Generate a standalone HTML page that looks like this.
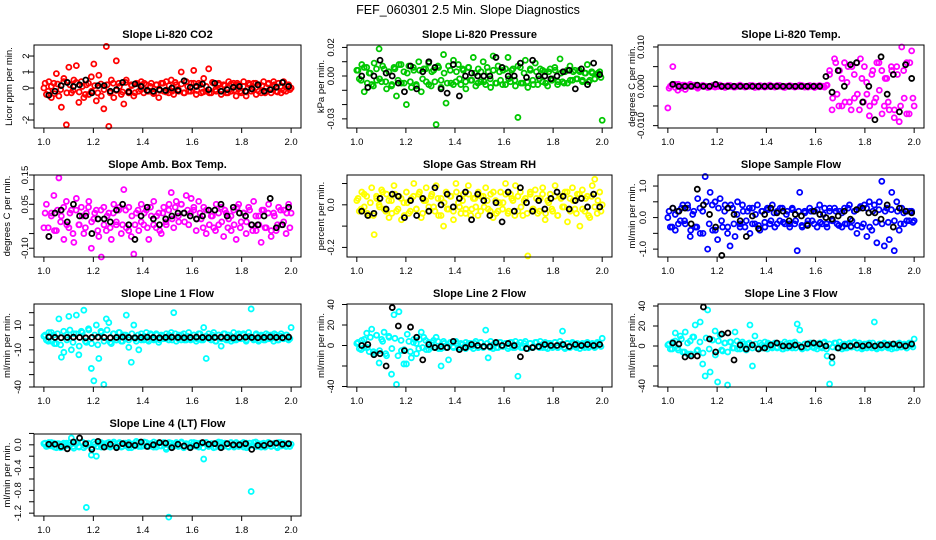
<!DOCTYPE html>
<html><head><meta charset="utf-8"><style>
html,body{margin:0;padding:0;background:#fff}
svg{display:block;font-family:"Liberation Sans","DejaVu Sans",sans-serif}
</style></head><body>
<svg id="chart" width="936" height="540" viewBox="0 0 936 540" xmlns="http://www.w3.org/2000/svg">
<rect width="936" height="540" fill="#fff"/>
<text x="468" y="14" text-anchor="middle" font-size="12.5">FEF_060301  2.5 Min. Slope Diagnostics</text>
</svg>
<script>
// ---- data (colored series evenly spaced over 1..2, band series over 1.005..1.995, black series over 1.02..1.99)
const xTickLabels = ["1.0","1.2","1.4","1.6","1.8","2.0"];
const xTicks = [1.0,1.2,1.4,1.6,1.8,2.0];

const co2Vals = [0,-0.4,0.4,-0.6,0.3,0.9,-0.5,-1.2,0.6,-2.3,1.3,-0.3,0.5,1.4,-0.9,0.4,-0.6,0.2,-0.4,0.7,1.5,-0.8,0.8,-0.5,-1.3,2.6,-2.4,0.5,-0.6,1.7,0.3,-0.4,-1.0,0.5,-0.3,0.2,-0.5,0.3,-0.2,0.4,-0.3,0.2,-0.2,0.3,-0.3,0.2,-0.6,0.3,-0.2,0.4,-0.3,0.5,-0.4,0.2,-0.2,1.0,-0.3,0.4,-0.2,0.3,1.1,-0.4,0.3,-0.3,0.6,-0.2,1.2,-0.3,0.3,-0.2,0.3,-0.4,0.2,-0.3,0.4,-0.2,0.3,-0.5,0.2,-0.3,0.4,-0.5,0.3,-0.2,0.3,-0.4,0.2,-0.3,0.4,-0.2,0.3,-0.3,0.4,-0.2,0.3,-0.3,0.4,-0.2,0.2,0.0];
const co2Band = [0.3,-0.2,0.1,-0.35,0.25,-0.1,0.4,-0.3,0.2,-0.15,0.35,-0.25,0.1,-0.4,0.3,-0.2,0.15,-0.3,0.25,-0.1,0.2,-0.3,0.3,-0.15,0.1,-0.25,0.35,-0.2,0.15,-0.3,0.25,-0.1,0.3,-0.2,0.1,-0.35,0.2,-0.15,0.3,-0.25,0.15,-0.2,0.35,-0.1,0.25,-0.3,0.1,-0.2,0.3,-0.15,0.2,-0.25,0.1,-0.3,0.35,-0.1,0.2,-0.2,0.15,-0.3,0.25,-0.15,0.3,-0.2,0.1,-0.25,0.2,-0.1,0.3,-0.2,0.15,-0.3,0.25,-0.1,0.2,-0.25,0.1,-0.15,0.2,-0.1];
const co2Black = [-0.45,-0.2,0.15,0.35,0.1,0.2,0.5,-0.3,0.15,0.15,-0.2,-0.1,0.35,-0.25,0.25,0.1,-0.15,-0.2,-0.1,-0.15,0.0,-0.15,0.45,0.05,0.1,0.25,-0.1,0.3,-0.2,-0.1,0.05,0.1,-0.2,-0.05,0.2,-0.2,-0.1,0.05,0.35,0.1];

const presVals = [0.004,-0.002,0.008,-0.011,0.006,0.002,-0.006,0.009,-0.003,0.019,-0.004,0.005,-0.009,0.003,-0.007,0.006,-0.014,0.008,-0.005,0.003,-0.02,0.007,-0.008,0.004,-0.006,0.01,-0.011,0.005,-0.004,0.009,-0.007,0.004,-0.034,0.006,-0.008,0.015,-0.019,0.007,-0.005,0.011,-0.004,0.008,-0.006,0.004,-0.009,0.006,-0.003,0.013,-0.007,0.005,-0.004,0.01,-0.006,0.003,-0.008,0.014,-0.005,0.007,-0.003,0.004,-0.006,0.013,-0.004,0.005,-0.007,-0.029,0.006,-0.005,0.011,-0.008,0.004,-0.003,0.009,-0.006,0.005,-0.004,0.003,-0.007,0.005,-0.002,0.004,-0.006,0.012,-0.004,0.003,-0.005,0.007,-0.003,0.004,-0.002,0.003,-0.004,0.002,0.008,-0.003,0.002,-0.002,0.001,0.003,-0.031];
const presBand = [0.004,-0.003,0.006,-0.005,0.002,-0.007,0.005,-0.002,0.007,-0.004,0.003,-0.006,0.005,-0.003,0.008,-0.005,0.002,-0.004,0.006,-0.007,0.004,-0.002,0.005,-0.006,0.003,-0.004,0.007,-0.003,0.002,-0.005,0.004,-0.006,0.003,-0.002,0.005,-0.004,0.006,-0.003,0.002,-0.005,0.003,-0.004,0.006,-0.002,0.004,-0.005,0.003,-0.006,0.005,-0.002,0.004,-0.003,0.007,-0.005,0.002,-0.004,0.005,-0.006,0.003,-0.002,0.004,-0.005,0.003,-0.003,0.006,-0.004,0.002,-0.005,0.004,-0.003,0.003,-0.002,0.004,-0.003,0.002,-0.004,0.003,-0.002,0.002,-0.001];
const presBlack = [0.0,-0.008,0.0,0.011,0.002,0.0,-0.005,-0.011,0.007,-0.009,0.003,0.01,0.006,-0.009,-0.012,0.008,-0.014,0.0,0.002,0.0,0.0,0.0,0.013,0.006,0.0,0.0,0.009,-0.001,0.011,0.0,0.0,-0.002,0.0,0.003,0.004,-0.009,0.005,-0.006,0.009,0.001];

const tempVals = [-0.0055,0.0,0.005,0.0005,-0.001,0.0,0.0003,-0.0008,0.0,0.0005,0,0.0003,-0.0005,0,0.0002,0,-0.0003,0,0.0002,-0.0002,0,0.0003,0,-0.0003,0,0.0002,0,-0.0002,0,0.0003,0,-0.0002,0,0.0002,0,-0.0003,0,0.0002,0,-0.0002,0,0.0003,0,-0.0002,0,0.0002,0,-0.0003,0,0.0002,0,-0.0002,0,0.0003,0,-0.0002,0,0.0002,0,-0.0003,0,0.0002,0,-0.0002,0.0003,0.003,-0.006,0.007,-0.002,0.004,-0.005,0.006,0.001,-0.004,0.005,-0.003,0.006,-0.006,0.002,0.005,-0.002,-0.0075,0.003,-0.004,0.006,-0.001,0.004,-0.005,0.002,-0.006,0.004,-0.008,0.005,-0.009,0.01,-0.003,0.006,-0.007,0.009,-0.005];
const tempBand = [-0.0005,0.0004,-0.0003,0.0005,-0.0004,0.0003,0,0.0002,0,-0.0002,0,0.0002,0,-0.0002,0,0.0001,0,-0.0001,0,0.0002,0,-0.0002,0,0.0001,0,-0.0001,0,0.0002,0,-0.0002,0,0.0001,0,-0.0001,0,0.0002,0,-0.0002,0,0.0001,0,-0.0001,0,0.0002,0,-0.0002,0,0.0001,0,-0.0001,0,0.0002,0.004,-0.003,0.006,-0.005,0.002,-0.004,0.005,-0.006,0.003,-0.002,0.007,-0.004,0.001,-0.005,0.004,-0.003,0.006,-0.007,0.002,-0.004,0.005,-0.006,0.003,-0.005,0.004,-0.007,0.006,-0.003];
const tempBlack = [0.0005,0,0,0,0.0003,0,0,0.0005,0,0,0,0,0,0,0,0,0,0,0,0,0,0,0,0,0,0.0025,-0.0015,0.004,0,0.0055,0.006,-0.004,0.0,-0.0085,0.0075,-0.002,0.003,-0.0065,0.0055,0.002];

const ambVals = [-0.03,0.05,-0.06,0.02,0.08,-0.04,0.14,0.01,-0.07,0.06,-0.03,0.03,-0.08,0.07,-0.02,0.04,-0.05,0.02,0.06,-0.1,0.0,0.03,-0.06,-0.13,0.04,-0.04,0.02,-0.07,0.05,-0.02,0.03,-0.05,0.1,-0.03,0.04,-0.06,-0.12,0.02,-0.04,0.05,-0.02,0.03,-0.07,0.01,0.06,-0.03,0.02,-0.05,0.04,-0.02,0.03,0.09,-0.03,0.06,-0.01,0.05,0.02,0.08,-0.02,0.07,0.03,-0.04,0.06,0.0,0.04,-0.05,0.03,0.01,-0.03,0.05,-0.02,0.04,-0.06,0.02,0.0,-0.04,0.03,-0.07,0.05,-0.01,0.02,-0.05,0.04,-0.02,0.06,-0.04,0.01,-0.08,0.03,-0.03,0.05,-0.06,0.02,-0.04,0.04,-0.02,0.03,-0.05,0.05,0.02];
const ambBand = [0.02,-0.03,0.01,-0.04,0.03,-0.01,0.04,-0.02,0.02,-0.05,0.03,-0.02,0.01,-0.03,0.04,-0.01,0.02,-0.04,0.03,-0.02,0.01,-0.03,0.02,-0.01,0.04,-0.02,0.03,-0.04,0.01,-0.02,0.03,-0.01,0.02,-0.03,0.04,-0.02,0.01,-0.04,0.02,-0.01,0.05,0.0,0.04,0.01,0.05,-0.01,0.03,0.02,0.04,0.0,0.02,-0.03,0.03,-0.02,0.01,-0.04,0.02,-0.01,0.03,-0.03,0.01,-0.02,0.04,-0.03,0.02,-0.01,0.03,-0.04,0.01,-0.02,0.03,-0.03,0.02,-0.04,0.01,-0.02,0.03,-0.01,0.02,-0.03];
const ambBlack = [-0.06,0.02,0.03,-0.01,0.05,0.01,0.01,-0.05,0.0,0.0,-0.01,0.03,0.05,-0.02,-0.07,0.01,0.04,0.0,-0.02,0.0,0.01,0.02,0.02,0.01,0.0,0.01,0.03,0.03,0.05,0.01,0.04,0.02,0.01,-0.02,-0.02,0.01,0.07,-0.03,-0.02,0.04];

const rhVals = [0.02,-0.03,0.06,-0.01,0.04,-0.05,0.08,-0.14,0.03,0.0,0.07,-0.02,0.05,-0.06,0.02,0.09,-0.03,0.04,-0.07,0.01,0.06,-0.04,0.03,0.1,-0.02,0.05,-0.06,0.02,0.08,-0.03,0.04,-0.01,0.09,-0.05,0.03,-0.1,0.06,-0.02,0.04,-0.07,0.1,0.01,-0.04,0.05,-0.02,0.09,-0.05,0.03,-0.01,0.06,-0.03,0.04,0.08,-0.02,0.05,-0.06,0.02,-0.03,0.06,0.01,0.1,-0.04,0.05,0.02,0.09,-0.03,0.06,-0.05,0.03,-0.24,0.05,-0.02,0.07,-0.04,0.03,0.08,-0.07,0.02,0.05,-0.03,0.09,-0.05,0.04,-0.01,0.06,-0.08,0.03,0.08,-0.02,0.05,-0.1,0.07,-0.03,0.04,-0.06,0.09,0.12,-0.04,0.06,0.0];
const rhBand = [0.03,-0.02,0.05,-0.04,0.01,-0.05,0.04,-0.01,0.06,-0.03,0.02,-0.04,0.05,-0.02,0.03,-0.05,0.01,-0.03,0.04,-0.02,0.06,-0.04,0.02,-0.01,0.05,-0.03,0.03,-0.05,0.01,-0.02,0.04,-0.03,0.06,-0.01,0.02,-0.04,0.05,-0.02,0.03,-0.05,0.04,-0.01,0.02,-0.03,0.06,-0.04,0.01,-0.02,0.05,-0.03,0.03,-0.05,0.04,-0.01,0.02,-0.04,0.06,-0.02,0.03,-0.03,0.05,-0.04,0.01,-0.02,0.04,-0.05,0.03,-0.01,0.06,-0.03,0.02,-0.04,0.05,-0.02,0.03,-0.05,0.04,-0.01,0.02,-0.03];
const rhBlack = [-0.03,-0.05,-0.04,0.03,-0.02,0.05,0.04,-0.06,0.02,-0.05,0.03,-0.03,0.08,0.0,0.05,-0.01,0.03,0.06,-0.07,0.05,0.02,-0.05,0.01,-0.08,0.06,-0.03,0.08,0.01,-0.03,0.02,-0.02,0.03,0.06,0.04,-0.02,0.02,0.03,-0.01,0.05,-0.01];

const flowVals = [0.0,-0.3,0.3,-0.4,0.2,-0.1,0.4,-0.2,0.3,-0.6,0.1,-0.3,0.6,-0.5,0.2,1.3,-1.0,0.8,-0.4,0.5,-0.7,0.6,-0.3,0.4,-0.5,-0.9,0.3,-0.6,0.5,-0.2,0.4,-0.3,0.2,-0.5,0.3,-0.2,0.4,-0.4,0.2,-0.3,0.3,-0.2,0.4,-0.3,0.2,-0.1,0.3,-0.2,0.2,-0.3,0.3,-0.2,-1.05,0.8,-0.3,0.2,-0.2,0.3,-0.1,0.2,-0.3,0.4,-0.2,0.3,-0.3,0.2,-0.1,0.3,-0.2,0.2,-0.3,0.3,-0.2,0.4,-0.1,0.2,-0.5,0.3,-0.3,0.4,-0.6,0.5,-0.4,0.4,-0.8,0.5,1.15,-0.9,0.3,-0.7,0.8,-1.05,0.5,-0.4,0.3,-0.2,0.2,-0.1,0.2,-0.1];
const flowBand = [0.2,-0.3,0.1,-0.2,0.3,-0.1,0.4,-0.4,0.2,-0.3,0.3,-0.5,0.5,-0.2,0.4,-0.4,0.3,-0.1,0.2,-0.3,0.4,-0.2,0.1,-0.3,0.2,-0.1,0.3,-0.2,0.1,-0.25,0.2,-0.15,0.25,-0.1,0.15,-0.2,0.3,-0.15,0.1,-0.2,0.25,-0.1,0.2,-0.25,0.15,-0.1,0.2,-0.2,0.25,-0.15,0.1,-0.2,0.3,-0.1,0.2,-0.25,0.15,-0.2,0.3,-0.3,0.2,-0.25,0.35,-0.2,0.3,-0.3,0.2,-0.15,0.25,-0.2,0.2,-0.15,0.25,-0.1,0.2,-0.2,0.15,-0.1,0.2,-0.15];
const flowBlack = [0.3,0.2,0.3,-0.2,0.9,0.4,0.1,-0.3,-1.2,0.3,0.1,-0.1,-0.6,0.05,-0.35,0.1,0.3,0.15,0.2,-0.1,0.1,0.05,-0.25,0.2,0.1,0.0,-0.05,0.05,0.2,-0.05,0.25,0.3,0.15,0.15,-0.05,0.4,-0.3,0.3,0.2,0.15];

const line1Vals = [1,-2,4,-3,2,-5,15,-16,-12,2,17,-10,3,18,-14,5,22,-4,6,-25,-35,10,-17,4,-38,15,12,-5,3,-2,4,-3,2,18,-8,-20,10,-3,-10,3,-2,4,-3,2,-2,3,-4,2,-1,3,-2,4,20,-3,2,-2,3,-2,4,-1,2,-3,3,-2,8,-17,3,-2,4,-3,2,-7,3,-2,2,-3,4,-2,3,-1,2,-3,4,23,-2,3,-3,2,-2,3,-1,2,-3,2,-2,3,-1,2,-2,8];
const line1Band = [2,-3,4,-5,3,-6,5,-2,6,-4,3,-7,4,-3,7,-5,2,-6,5,-3,6,-4,3,-2,4,-3,2,-2,3,-1,2,-2,1,-2,3,-1,2,-2,1,-1,2,-2,3,-1,2,-2,1,-2,2,-1,3,-2,1,-1,2,-3,2,-1,3,-2,1,-2,2,-1,3,-2,1,-1,2,-2,1,-2,2,-1,3,-2,1,-1,2,-1];
const line1Black = [0.3,0,-0.2,0,0.2,0,-0.3,0,0.2,0,-0.2,0,0.3,0,-0.2,0,0.2,0,-0.3,0,0.2,0,-0.2,0,0.3,0,-0.2,0,0.2,0,-0.3,0,0.2,0,-0.2,0,0.3,0,-0.2,0.3];

const line2Vals = [2,-3,5,-2,12,-6,16,-8,10,-17,6,13,-10,8,-28,30,-38,33,-5,-18,-18,4,-12,6,2,-3,13,8,-4,3,-2,5,8,-3,-20,4,-2,-14,3,-2,4,-3,2,-2,3,-1,2,-3,4,-2,3,-2,15,-12,4,-3,2,-2,3,-1,2,-3,3,-2,4,-30,3,-2,4,-3,2,-2,3,-1,4,-2,3,-3,2,-2,3,-2,4,14,-3,2,-2,3,-1,2,-3,2,-2,3,-1,2,-2,3,1,7];
const line2Band = [3,-4,6,-2,8,-6,10,-5,4,-8,9,-3,7,-10,5,-4,11,-6,3,-8,6,-2,5,-4,3,-2,4,-3,2,-2,3,-1,2,-2,1,-3,2,-1,2,-2,3,-1,2,-2,1,-2,3,-1,2,-1,3,-2,1,-2,2,-3,2,-1,3,-2,1,-2,2,-1,3,-2,1,-2,2,-1,2,-2,1,-1,2,-2,1,-1,2,-1];
const line2Black = [0,1,-9,-8,-20,37,19,-5,18,8,-14,1,-2,-1,-2,4,-4,-2,1,0,-1,-1,3,0,2,0,-11,-3,-2,-1,1,0,0,1,-1,1,0,1,0,1];

const line3Vals = [1,-3,4,13,-2,10,-6,14,-8,5,9,21,-4,24,-18,-30,36,-26,6,15,-36,11,-5,3,-39,4,-2,14,-3,2,4,-3,2,21,-20,10,-2,3,-2,4,-3,2,-2,3,-1,2,-3,4,-2,3,-2,4,22,16,-3,2,-2,3,-1,2,-3,3,-2,4,-10,-38,-17,3,-2,4,-3,2,-2,3,-1,4,-2,3,-3,2,-2,3,-2,24,-3,2,-2,3,-1,2,-3,2,-2,3,-1,2,-2,3,1,7];
const line3Band = [2,-3,5,-4,7,-6,3,-8,9,-5,4,-7,8,-3,6,-9,5,-4,3,-6,4,-2,5,-3,2,-4,3,-2,2,-3,1,-2,3,-1,2,-2,1,-3,2,-1,3,-2,1,-2,2,-1,3,-2,2,-1,3,-3,2,-1,3,-2,1,-2,2,-1,3,-2,1,-2,2,-1,3,-2,1,-1,2,-2,1,-2,2,-1,1,-2,2,-1];
const line3Black = [3,2,-11,-10,-10,39,7,-6,12,13,-14,1,-3,1,-3,-2,1,3,0,0,1,-1,2,3,2,0,-11,-2,0,0,1,0,1,0,1,1,2,1,0,2];

const line4Vals = [0.02,-0.03,0.04,-0.02,0.03,-0.05,0.02,0.01,-0.04,0.03,0.0,0.12,-0.06,0.05,-0.03,0.04,-0.05,-1.1,0.02,-0.18,0.05,-0.2,0.03,-0.04,0.02,-0.03,0.04,-0.02,0.05,-0.03,0.02,-0.04,0.03,-0.02,0.04,-0.05,0.02,0.06,-0.03,0.03,-0.02,0.04,-0.03,0.02,0.05,-0.04,0.03,-0.02,0.04,-0.08,-1.27,0.03,-0.03,0.04,-0.02,0.03,-0.05,0.02,-0.03,0.04,-0.02,0.03,-0.04,0.02,-0.25,0.04,-0.03,0.02,-0.05,0.03,-0.02,0.04,-0.03,0.02,-0.04,0.03,-0.02,0.04,-0.03,0.02,-0.04,0.03,-0.02,-0.82,0.04,-0.03,0.02,-0.04,0.03,-0.02,0.04,-0.03,0.02,-0.03,0.04,-0.02,0.03,-0.03,0.02,0.01];
const line4Band = [0.03,-0.02,0.04,-0.04,0.02,-0.05,0.03,-0.01,0.04,-0.03,0.02,-0.04,0.05,-0.02,0.03,-0.05,0.01,-0.03,0.04,-0.02,0.03,-0.04,0.02,-0.01,0.04,-0.03,0.03,-0.05,0.01,-0.02,0.04,-0.03,0.05,-0.01,0.02,-0.04,0.03,-0.02,0.03,-0.05,0.04,-0.01,0.02,-0.03,0.05,-0.04,0.01,-0.02,0.04,-0.03,0.03,-0.05,0.04,-0.01,0.02,-0.04,0.05,-0.02,0.03,-0.03,0.04,-0.04,0.01,-0.02,0.04,-0.05,0.03,-0.01,0.05,-0.03,0.02,-0.04,0.04,-0.02,0.03,-0.05,0.04,-0.01,0.02,-0.03];
const line4Black = [0.01,0.01,-0.03,-0.07,0.05,0.12,0.02,-0.08,0.06,-0.04,0.01,-0.05,0.02,0.0,-0.01,0.05,-0.03,0.0,0.04,0.03,-0.05,0.01,-0.02,-0.05,-0.01,0.04,0.01,0.02,-0.05,0.02,0.0,0.0,0.02,-0.08,-0.01,-0.01,0.02,0.03,0.01,0.02];

// ---- layout
const cols = [[34,301],[347,612],[658,924]];
const rows = [[45,128],[175,257],[304,387],[434,516]];
const panels = [
 {id:"co2",title:"Slope Li-820 CO2",ylab:"Licor ppm per min.",c:0,r:0,ymin:-2.5,ymax:2.69,ticks:[-2,-1,0,1,2],labels:{"2":"2","1":"1","0":"0","-2":"-2"},color:"#ff0000",vals:co2Vals,band:co2Band,blk:co2Black,lo:8,tx:8},
 {id:"pressure",title:"Slope Li-820 Pressure",ylab:"kPa per min.",c:1,r:0,ymin:-0.0364,ymax:0.0217,ticks:[-0.03,-0.02,-0.01,0,0.01,0.02],labels:{"0.02":"0.02","0":"0.00","-0.03":"-0.03"},color:"#00c800",vals:presVals,band:presBand,blk:presBlack,lo:16,tx:320},
 {id:"temp",title:"Slope Li-820 Temp.",ylab:"degrees C per min.",c:2,r:0,ymin:-0.0106,ymax:0.0105,ticks:[-0.01,-0.005,0,0.005,0.01],labels:{"0.01":"0.010","0":"0.000","-0.01":"-0.010"},color:"#ff00ff",vals:tempVals,band:tempBand,blk:tempBlack,lo:17,tx:631},
 {id:"ambbox",title:"Slope Amb. Box Temp.",ylab:"degrees C per min.",c:0,r:1,ymin:-0.13,ymax:0.15,ticks:[-0.1,-0.05,0,0.05,0.1,0.15],labels:{"0.15":"0.15","0.05":"0.05","-0.1":"-0.10"},color:"#ff00ff",vals:ambVals,band:ambBand,blk:ambBlack,lo:9,tx:6},
 {id:"rh",title:"Slope Gas Stream RH",ylab:"percent per min.",c:1,r:1,ymin:-0.245,ymax:0.14,ticks:[-0.2,-0.1,0,0.1],labels:{"0":"0.0","-0.2":"-0.2"},color:"#ffff00",vals:rhVals,band:rhBand,blk:rhBlack,lo:16,tx:320},
 {id:"sampleflow",title:"Slope Sample Flow",ylab:"ml/min per min.",c:2,r:1,ymin:-1.25,ymax:1.35,ticks:[-1,-0.5,0,0.5,1],labels:{"1":"1.0","0":"0.0","-1":"-1.0"},color:"#0000ff",vals:flowVals,band:flowBand,blk:flowBlack,lo:15,tx:631},
 {id:"line1",title:"Slope Line 1 Flow",ylab:"ml/min per min.",c:0,r:2,ymin:-40,ymax:27,ticks:[-40,-30,-20,-10,0,10,20],labels:{"10":"10","-10":"-10","-40":"-40"},color:"#00ffff",vals:line1Vals,band:line1Band,blk:line1Black,lo:16,tx:6},
 {id:"line2",title:"Slope Line 2 Flow",ylab:"ml/min per min.",c:1,r:2,ymin:-40.5,ymax:40.5,ticks:[-40,-20,0,20,40],labels:{"40":"40","20":"20","0":"0","-40":"-40"},color:"#00ffff",vals:line2Vals,band:line2Band,blk:line2Black,lo:16,tx:320},
 {id:"line3",title:"Slope Line 3 Flow",ylab:"ml/min per min.",c:2,r:2,ymin:-41,ymax:42,ticks:[-40,-20,0,20,40],labels:{"40":"40","20":"20","0":"0","-40":"-40"},color:"#00ffff",vals:line3Vals,band:line3Band,blk:line3Black,lo:16,tx:631},
 {id:"line4",title:"Slope Line 4 (LT) Flow",ylab:"ml/min per min.",c:0,r:3,ymin:-1.25,ymax:0.19,ticks:[-1.2,-1,-0.8,-0.6,-0.4,-0.2,0,0.2],labels:{"0":"0.0","-0.4":"-0.4","-0.8":"-0.8","-1.2":"-1.2"},color:"#00ffff",vals:line4Vals,band:line4Band,blk:line4Black,lo:16,tx:6}
];

const NS="http://www.w3.org/2000/svg";
const svg=document.getElementById("chart");
function mk(tag,attrs,parent){const e=document.createElementNS(NS,tag);for(const k in attrs)e.setAttribute(k,attrs[k]);(parent||svg).appendChild(e);return e;}

panels.forEach(p=>{
  const [L,R]=cols[p.c],[T,B]=rows[p.r];
  const g=mk("g",{});
  
  
  const xs=v=>L+(v-0.96)/1.08*(R-L);
  const ys=v=>B-(v-p.ymin)/(p.ymax-p.ymin)*(B-T);
  const t=mk("text",{x:(L+R)/2,y:T-7,"text-anchor":"middle","font-size":"11","font-weight":"bold"},g);
  t.textContent=p.title;
  
  
  const pts=mk("g",{fill:"none","stroke-width":"1.8"},g);
  
  
  p.band.forEach((v,i)=>{
    const c=mk("circle",{cx:xs(1.005+i*0.99/(p.band.length-1)),cy:ys(v),r:2.5,stroke:p.color},pts);
    
    
  });
  p.vals.forEach((v,i)=>{
    const c=mk("circle",{cx:xs(1+i/(p.vals.length-1)),cy:ys(v),r:2.5,stroke:p.color},pts);
    
    
  });
  const bk=mk("g",{fill:"none","stroke-width":"1.8"},g);
  
  
  p.blk.forEach((v,i)=>{
    const c=mk("circle",{cx:xs(1.02+i*0.97/(p.blk.length-1)),cy:ys(v),r:2.5,stroke:"#000"},bk);
    
    
  });
  const box=mk("rect",{x:L,y:T,width:R-L,height:B-T,fill:"none",stroke:"#000","stroke-width":"1"},g);
  
  
  const xa=mk("g",{},g);
  
  
  xTicks.forEach((v,i)=>{
    mk("line",{x1:xs(v),x2:xs(v),y1:B,y2:B+5,stroke:"#000"},xa);
    const l=mk("text",{x:xs(v),y:B+17,"text-anchor":"middle","font-size":"9.5"},xa);
    l.textContent=xTickLabels[i];
  });
  const ya=mk("g",{},g);
  
  
  p.ticks.forEach(v=>{
    const y=ys(v);
    mk("line",{x1:L-5,x2:L,y1:y,y2:y,stroke:"#000"},ya);
    const key=String(v);
    if(p.labels[key]!==undefined){
      const lx=L-p.lo+3;
      const l=mk("text",{x:lx,y:y,"text-anchor":"middle","font-size":"9.5",transform:`rotate(-90 ${lx} ${y})`},ya);
      l.textContent=p.labels[key];
    }
  });
  const yt=mk("text",{x:p.tx+4,y:(T+B)/2,"text-anchor":"middle","font-size":"9.5",transform:`rotate(-90 ${p.tx+4} ${(T+B)/2})`},g);
  yt.textContent=p.ylab;
  
  
});
</script>
</body></html>
